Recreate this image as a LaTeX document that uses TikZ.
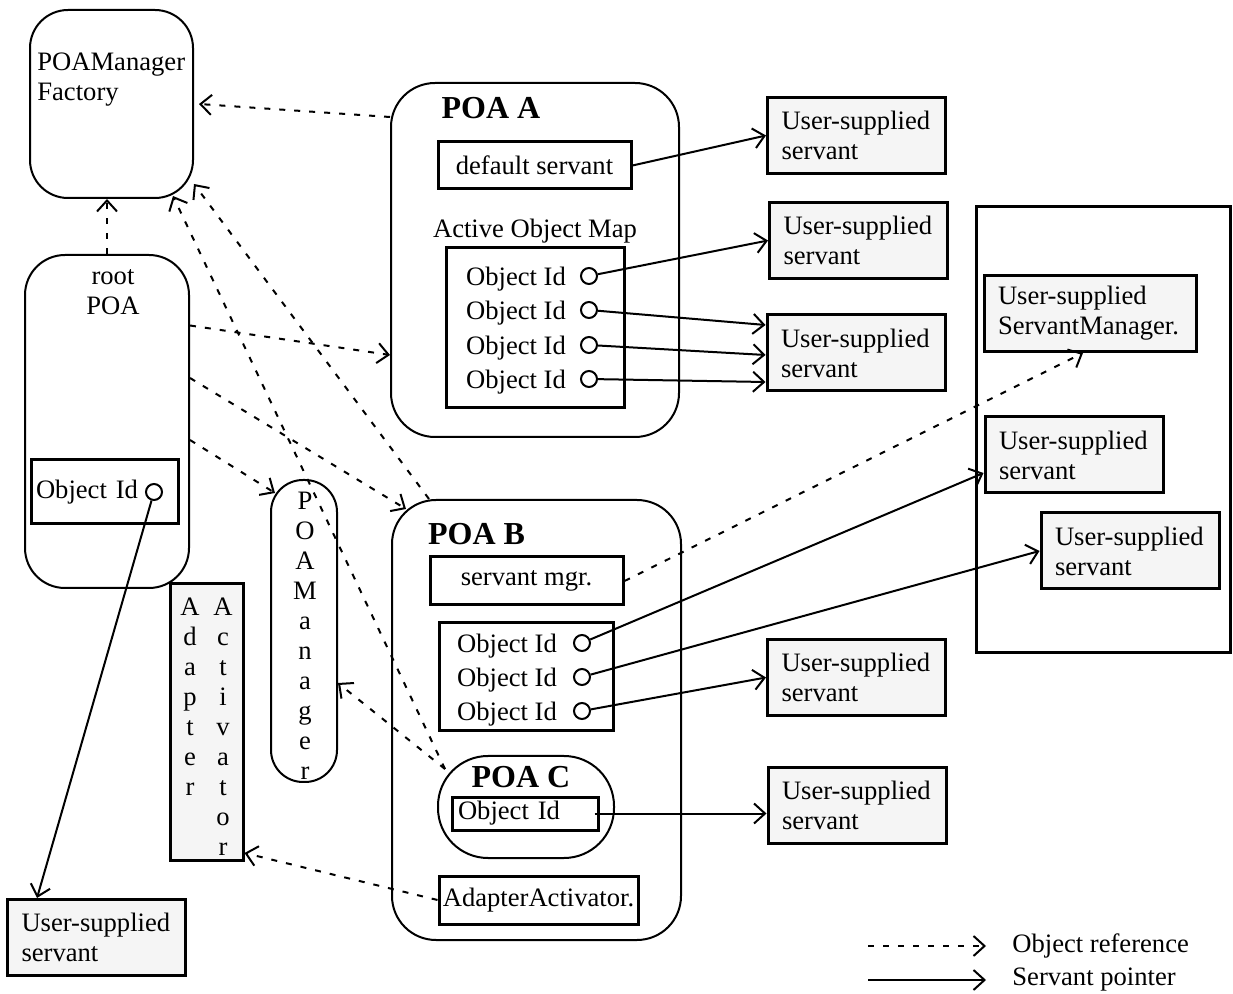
\documentclass[tikz,border=0pt]{standalone}
\usepackage{fontspec}
\setmainfont{Liberation Serif}
\usetikzlibrary{arrows.meta,fit}
\definecolor{svtgray}{gray}{0.96}
\tikzset{
  objref/.style={draw, line width=1pt, dash pattern=on 3pt off 4.5pt,
    -{Straight Barb[length=5.5pt,width=10pt]}},
  svtptr/.style={draw, line width=1pt, -{Straight Barb[length=5.5pt,width=10pt]}},
  poabox/.style={draw, line width=1pt, inner sep=0pt},
  idbox/.style={draw, line width=1.5pt, inner sep=0pt},
  usrsvt/.style={draw, line width=1.5pt, fill=svtgray, align=left,
    text width=75pt, inner xsep=7pt, minimum height=38pt},
  idhole/.style={circle, draw, line width=1pt, inner sep=0pt, minimum size=8pt},
  txt/.style={inner sep=0pt},
  poaname/.style={inner sep=0pt, font=\fontsize{16}{18}\selectfont\bfseries},
}

\begin{document}
\begin{tikzpicture}[x=0.5pt, y=-0.5pt,
    every node/.style={font=\fontsize{13.3}{15}\selectfont}]
  \useasboundingbox (0,0) rectangle (1233,994);

  %% factory and root POA
  \node[poabox, rounded corners=19pt, fit={(30,10) (193,198)}] (fact) {};
  \node[txt, anchor=west, align=left] (facttxt) at (37,80) {POAManager\\Factory};
  \node[poabox, rounded corners=20pt, fit={(25,255) (189,588)}] (root) {};
  \node[txt, align=center] (roottxt) at (113,292) {root\\POA};
  \node[idbox, text width=68.5pt, inner xsep=2.5pt, align=left,
    minimum height=32pt] (rootid) at (104.5,492) {Object Id};
  \node[idhole] (rooth) at (154,492) {};
  \node[usrsvt] (svtL) at (96.5,937.5) {User-supplied\\servant};

  %% POA manager and adapter activator
  \node[poabox, rounded corners=16pt, fit={(271,480) (337,782)}] (pm) {};
  \node[txt, align=center] (pmtxt) at (305,636) {P\\O\\A\\M\\a\\n\\a\\g\\e\\r};
  \node[idbox, fill=svtgray, fit={(170,584) (243,860)}] (vact) {};
  \node[txt, align=center, anchor=north] (vacttxt1) at (190,598) {A\\d\\a\\p\\t\\e\\r};
  \node[txt, align=center, anchor=north] (vacttxt2) at (223,598) {A\\c\\t\\i\\v\\a\\t\\o\\r};

  %% POA A
  \node[poabox, rounded corners=22pt, fit={(391,83) (679,437)}] (poaA) {};
  \node[poaname] (poaAtxt) at (491,108) {POA A};
  \node[idbox, minimum width=96.5pt, minimum height=23.5pt] (dflt) at (534.5,165.5) {default servant};
  \node[txt] (aomtxt) at (535,231) {Active Object Map};
  \node[idbox, fit={(446,248) (624,408)}] (aom) {};
  \foreach \y [count=\i] in {279,313,348,382}{
    \node[txt] (oaid\i) at (516,\y) {Object Id};
    \node[idhole] (oa\i) at (589,\y-3) {};
  }

  %% POA B with POA C
  \node[poabox, rounded corners=22pt, fit={(392,500) (681,940)}] (poaB) {};
  \node[poaname] (poaBtxt) at (476.5,534) {POA B};
  \node[idbox, minimum width=96.5pt, minimum height=24pt] (smgr) at (526.5,581) {servant mgr.};
  \node[idbox, fit={(439,623) (613,731)}] (bmap) {};
  \foreach \y [count=\i] in {646,680,714}{
    \node[txt] (obid\i) at (507,\y) {Object Id};
    \node[idhole] (ob\i) at (582,\y-3) {};
  }
  \node[poabox, rounded corners=25pt, fit={(438,756) (614,858)}] (poaC) {};
  \node[poaname] (poaCtxt) at (521,777) {POA C};
  \node[idbox, text width=67pt, inner xsep=3pt, align=left,
    minimum height=16.5pt] (cid) at (525,813.5) {Object Id};
  \node[idbox, minimum width=99.5pt, minimum height=24pt] (aact) at (538.5,900) {AdapterActivator.};

  %% user-supplied servants
  \node[usrsvt] (svtA1) at (856.5,135.5) {User-supplied\\servant};
  \node[usrsvt] (svtA2) at (858.5,240.5) {User-supplied\\servant};
  \node[usrsvt] (svtA3) at (856,353) {User-supplied\\servant};
  \node[usrsvt] (svtB3) at (856.5,677.5) {User-supplied\\servant};
  \node[usrsvt] (svtC) at (857,805.5) {User-supplied\\servant};
  \node[idbox, fit={(976,207) (1230,653)}] (mgrarea) {};
  \node[usrsvt, text width=92pt] (svtmgr) at (1090,313.5) {User-supplied\\ServantManager.};
  \node[usrsvt] (svtR1) at (1074,455) {User-supplied\\servant};
  \node[usrsvt] (svtR2) at (1130,551) {User-supplied\\servant};

  %% object references
  \draw[objref] ([yshift=-17.5pt]poaA.north west) -- ([xshift=2.5pt]fact.east);
  \draw[objref] (root.north) -- (root.north |- fact.south);
  \draw[objref] ([xshift=4pt,yshift=-7pt]poaC.north west) -- ([xshift=-10.5pt,yshift=1.5pt]fact.south east);
  \draw[objref] ([xshift=4pt,yshift=-7pt]poaC.north west) -- ([yshift=-26pt]pm.east);
  \draw[objref] ([xshift=19pt]poaB.north west) -- ([yshift=7.5pt]fact.south east);
  \draw[objref] ([yshift=48pt]root.east) -- ([yshift=-47.5pt]poaA.west);
  \draw[objref] ([yshift=21.75pt]root.east) -- ([xshift=7.5pt,yshift=-5pt]poaB.north west);
  \draw[objref] ([yshift=-9.25pt]root.east) -- ([xshift=2.5pt,yshift=-7pt]pm.north west);
  \draw[objref] (aact.west) -- ([yshift=-65.5pt]vact.east);
  \draw[objref] (smgr.east) -- ([xshift=-3.5pt]svtmgr.south);

  %% servant pointers
  \draw[svtptr] (dflt.east) -- (svtA1.west);
  \draw[svtptr] (oa1) -- (svtA2.west);
  \draw[svtptr] (oa2) -- ([yshift=14pt]svtA3.west);
  \draw[svtptr] (oa3) -- ([yshift=-1pt]svtA3.west);
  \draw[svtptr] (oa4) -- ([yshift=-14.5pt]svtA3.west);
  \draw[svtptr] (ob1) -- ([yshift=-9pt]svtR1.west);
  \draw[svtptr] (ob2) -- (svtR2.west);
  \draw[svtptr] (ob3) -- (svtB3.west);
  \draw[svtptr] ([xshift=-2.5pt]cid.east) -- (cid.east -| svtC.west);
  \draw[svtptr] (rooth) -- ([xshift=15.5pt]svtL.north west);

  %% legend
  \node[txt, anchor=west] (lgreftxt) at (1012,946) {Object reference};
  \node[txt, anchor=west] (lgptrtxt) at (1012,980) {Servant pointer};
  \coordinate (lgref) at (868,946);
  \coordinate (lgptr) at (868,980);
  \draw[objref] (lgref) -- ([xshift=-13pt]lgreftxt.west);
  \draw[svtptr] (lgptr) -- ([xshift=-13pt]lgptrtxt.west);
\end{tikzpicture}
\end{document}
